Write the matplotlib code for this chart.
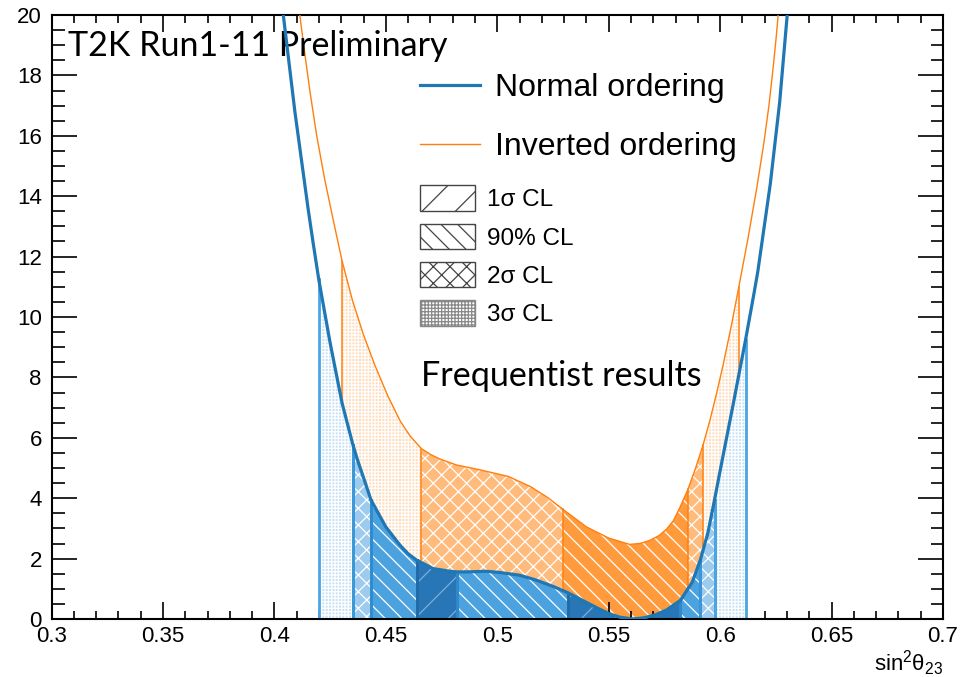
# delta chi2 vs sin^2 theta23, T2K style frequentist plot
import numpy as np
import matplotlib.pyplot as plt
from matplotlib.patches import Patch
from matplotlib.lines import Line2D
from matplotlib.ticker import MultipleLocator

plt.rcParams['hatch.linewidth'] = 0.9
plt.rcParams['mathtext.fontset'] = 'custom'
plt.rcParams['mathtext.rm'] = 'Liberation Sans'
plt.rcParams['font.family'] = ['Liberation Sans', 'DejaVu Sans']

#%% data
# normal ordering
no_x = [0.4025, 0.4040, 0.4092, 0.4152, 0.4174, 0.4199, 0.4250, 0.4304, 0.4353, 0.4376,
        0.4406, 0.4433, 0.4500, 0.4563, 0.4600, 0.4638, 0.4712, 0.4787, 0.4820, 0.4862,
        0.4950, 0.5011, 0.5100, 0.5170, 0.5250, 0.5317, 0.5400, 0.5450, 0.5500, 0.5550,
        0.5608, 0.5660, 0.5710, 0.5760, 0.5822, 0.5875, 0.5911, 0.5945, 0.5975, 0.6005,
        0.6057, 0.6114, 0.6150, 0.6169, 0.6225, 0.6267, 0.6301, 0.6315]
no_y = [20.96, 20.0, 16.8, 13.55, 12.45, 11.25, 9.15, 7.14, 5.75, 5.2,
        4.55, 3.95, 3.05, 2.45, 2.16, 1.95, 1.67, 1.58, 1.56, 1.56,
        1.58, 1.54, 1.45, 1.30, 1.08, 0.87, 0.55, 0.36, 0.18, 0.06,
        0.0, 0.04, 0.14, 0.30, 0.62, 1.22, 1.95, 2.85, 3.95, 5.1,
        7.05, 9.24, 10.7, 11.5, 14.4, 17.1, 20.0, 21.3]
# inverted ordering
io_x = [0.4100, 0.4114, 0.4135, 0.4159, 0.4190, 0.4226, 0.4253, 0.4279, 0.4304, 0.4350,
        0.4398, 0.4450, 0.4510, 0.4565, 0.4610, 0.4660, 0.4700, 0.4742, 0.4817, 0.4928,
        0.5050, 0.5150, 0.5225, 0.5295, 0.5400, 0.5500, 0.5594, 0.5640, 0.5684, 0.5725,
        0.5759, 0.5790, 0.5820, 0.5856, 0.5890, 0.5923, 0.5955, 0.5985, 0.6013, 0.6050,
        0.6084, 0.6125, 0.6165, 0.6195, 0.6219, 0.6240, 0.6252, 0.6265]
io_y = [20.8, 20.0, 18.8, 17.5, 16.0, 14.55, 13.6, 12.7, 11.85, 10.56,
        9.45, 8.42, 7.37, 6.55, 6.05, 5.64, 5.45, 5.3, 5.1, 4.93,
        4.72, 4.38, 4.03, 3.63, 3.05, 2.68, 2.47, 2.5, 2.6, 2.76,
        2.97, 3.25, 3.7, 4.3, 5.0, 5.75, 6.6, 7.5, 8.4, 9.7,
        11.0, 12.6, 14.3, 15.7, 17.0, 18.4, 19.3, 20.4]

# confidence intervals (edges and level of each piece)
no_edges = [0.4199, 0.4353, 0.4433, 0.4638, 0.4820, 0.5317, 0.5822, 0.5911, 0.5975, 0.6114]
no_levels = ['3s', '2s', '90', '1s', '90', '1s', '90', '2s', '3s']
io_edges = [0.4304, 0.4660, 0.5295, 0.5856, 0.5923, 0.6084]
io_levels = ['3s', '2s', '90', '2s', '3s']

legend_labels = ['1\u03c3 CL', '90% CL', '2\u03c3 CL', '3\u03c3 CL']
line_labels = ['Normal ordering', 'Inverted ordering']

#%% styles
hatches = {'1s': '/', '90': '\\\\', '2s': 'xx', '3s': '+++++'}
no_face = {'1s': '#2876b6', '90': '#4ca2df', '2s': '#9ccbee', '3s': '#c9e2f6'}
no_hatchc = {'1s': '#79b0dd', '90': 'white', '2s': 'white', '3s': 'white'}
no_edgec = {'1s': '#1f6aa6', '90': '#2f8bd0', '2s': '#3b97d9', '3s': '#4aa5e5'}
io_face = {'90': '#ff9b3d', '2s': '#ffbb7c', '3s': '#ffdcbc'}
blue = '#1f77b4'
orange = '#ff7f0e'

fig = plt.figure(figsize=(9.76, 6.77), dpi=100)
ax = fig.add_axes([51.5/976, 58/677, 891.5/976, 604/677])

def piece(xs, ys, lo, hi):
    xs = np.array(xs)
    ys = np.array(ys)
    m = (xs >= lo - 1e-9) & (xs <= hi + 1e-9)
    return xs[m], ys[m]

# inverted ordering bands first (they sit under the NO ones)
for i, lev in enumerate(io_levels):
    px, py = piece(io_x, io_y, io_edges[i], io_edges[i+1])
    ax.fill_between(px, 0, py, facecolor=io_face[lev], edgecolor='white',
                    hatch=hatches[lev], linewidth=0, zorder=1)
for e in io_edges:
    px, py = piece(io_x, io_y, e, e)
    ax.plot([e, e], [0, py[0]], color=orange, lw=1.1, zorder=1.5)

for i, lev in enumerate(no_levels):
    px, py = piece(no_x, no_y, no_edges[i], no_edges[i+1])
    ax.fill_between(px, 0, py, facecolor=no_face[lev], edgecolor=no_hatchc[lev],
                    hatch=hatches[lev], linewidth=0, zorder=2)
    for e in (no_edges[i], no_edges[i+1]):
        ex, ey = piece(no_x, no_y, e, e)
        ax.plot([e, e], [0, ey[0]], color=no_edgec[lev], lw=2, zorder=2.5)

ax.plot(io_x, io_y, color=orange, lw=1.0, zorder=3)
ax.plot(no_x, no_y, color=blue, lw=2.3, zorder=4)

ax.set_xlim(0.3, 0.7)
ax.set_ylim(0, 20)
ax.xaxis.set_minor_locator(MultipleLocator(0.01))
ax.yaxis.set_major_locator(MultipleLocator(2))
ax.yaxis.set_minor_locator(MultipleLocator(0.5))
ax.set_xticks(np.arange(0.3, 0.701, 0.05))
ax.set_xticklabels(['0.3', '0.35', '0.4', '0.45', '0.5', '0.55', '0.6', '0.65', '0.7'])
ax.tick_params(which='both', direction='in', top=True, right=True, width=1.2, labelsize=16)
ax.tick_params(axis='x', which='major', length=12, pad=5)
ax.tick_params(axis='x', which='minor', length=6)
ax.tick_params(axis='y', which='major', length=18, pad=7)
ax.tick_params(axis='y', which='minor', length=9)
for s in ax.spines.values():
    s.set_linewidth(1.5)

ax.set_xlabel('sin$^{\\mathrm{2}}$\u03b8$_{\\mathrm{23}}$', fontsize=16, loc='right', labelpad=1)

ax.text(0.018, 0.932, 'T2K Run1-11 Preliminary', transform=ax.transAxes,
        fontsize=24.5, family='Lato', va='baseline')
ax.text(0.415, 0.386, 'Frequentist results', transform=ax.transAxes,
        fontsize=24.6, family='Lato', va='baseline')

# legends
h_lines = [Line2D([], [], color=blue, lw=2.3), Line2D([], [], color=orange, lw=1.0)]
leg1 = ax.legend(h_lines, line_labels, loc='upper left', bbox_to_anchor=(0.413, 0.9035),
                 frameon=False, fontsize=23, handlelength=1.9, handletextpad=0.47,
                 labelspacing=0.91, borderpad=0, borderaxespad=0)
ax.add_artist(leg1)

h_box = [Patch(facecolor='white', edgecolor='#444444', hatch='/'),
         Patch(facecolor='white', edgecolor='#444444', hatch='\\\\'),
         Patch(facecolor='white', edgecolor='#444444', hatch='xx'),
         Patch(facecolor='white', edgecolor='#888888', hatch='+++++')]
leg2 = ax.legend(h_box, legend_labels, loc='upper left', bbox_to_anchor=(0.413, 0.718),
                 frameon=False, fontsize=17.5, handlelength=2.26, handleheight=1.25,
                 handletextpad=0.5, labelspacing=0.5, borderpad=0, borderaxespad=0)

fig.savefig('out.png', dpi=100)
